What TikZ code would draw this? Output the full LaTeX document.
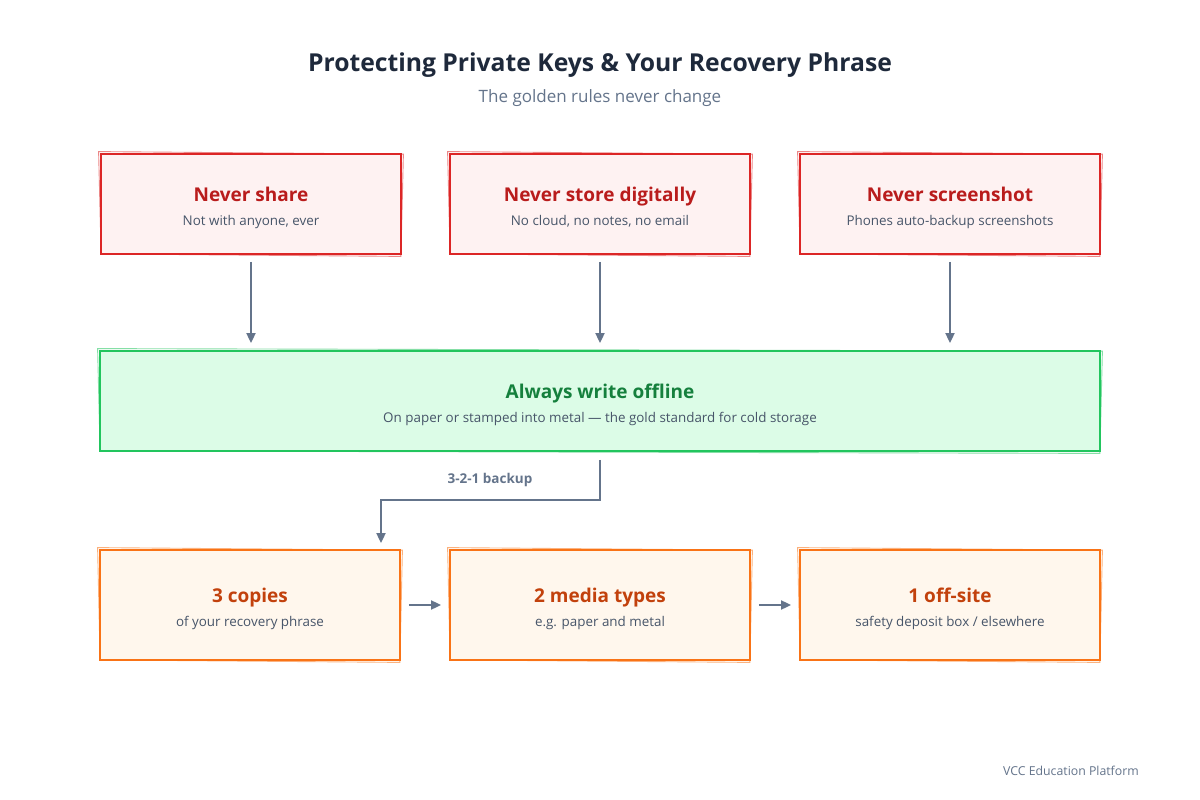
\documentclass[tikz,border=0pt]{standalone}
\usepackage{fontspec}
\setmainfont{Open Sans}
\usetikzlibrary{arrows.meta, positioning, calc}

\definecolor{redline}{HTML}{DC2626}
\definecolor{redfill}{HTML}{FEF2F2}
\definecolor{redtext}{HTML}{B91C1C}
\definecolor{greenline}{HTML}{22C55E}
\definecolor{greenfill}{HTML}{DCFCE7}
\definecolor{greentext}{HTML}{15803D}
\definecolor{orangeline}{HTML}{F97316}
\definecolor{orangefill}{HTML}{FFF7ED}
\definecolor{orangetext}{HTML}{C2410C}
\definecolor{subtext}{HTML}{475569}
\definecolor{slate}{HTML}{64748B}
\definecolor{headtext}{HTML}{1E293B}

\newcommand{\boxtitle}[2]{{\rule{0pt}{21.5pt}\fontsize{19}{22}\selectfont\bfseries\color{#1}#2}}
\newcommand{\boxsub}[1]{{\fontsize{13.4}{15}\selectfont\color{subtext}#1}}

\tikzset{
  rulebox/.style={draw, rectangle, line width=1.8pt, minimum width=300pt, minimum height=100pt,
    align=center, font=\fontsize{13}{24}\selectfont},
  flow/.style={-{Triangle[length=10pt, width=9pt]}, line width=1.8pt, draw=slate}
}

\begin{document}
\begin{tikzpicture}[x=1pt, y=-1pt]
\useasboundingbox[fill=white] (0,0) rectangle (1200,800);

% Heading
\node[font=\fontsize{24.7}{30}\selectfont\bfseries, text=headtext] (title) at (600,65) {Protecting Private Keys \& Your Recovery Phrase};
\node[font=\fontsize{17}{20}\selectfont, text=slate] (subtitle) at (600,98) {The golden rules never change};

% Three rules
\node[rulebox, draw=redline, fill=redfill] (share) at (251,204)
   {\boxtitle{redtext}{Never share}\\\boxsub{Not with anyone, ever}};
\node[rulebox, draw=redline, fill=redfill] (store) at (600,204)
   {\boxtitle{redtext}{Never store digitally}\\\boxsub{No cloud, no notes, no email}};
\node[rulebox, draw=redline, fill=redfill] (shot) at (950,204)
   {\boxtitle{redtext}{Never screenshot}\\\boxsub{Phones auto-backup screenshots}};

% Offline storage
\node[rulebox, draw=greenline, fill=greenfill, minimum width=1000pt] (offline) at (600,401)
   {\boxtitle{greentext}{Always write offline}\\\boxsub{On paper or stamped into metal --- the gold standard for cold storage}};

% 3-2-1 backup
\node[rulebox, draw=orangeline, fill=orangefill, minimum height=110pt] (copies) at (250,605)
   {\boxtitle{orangetext}{3 copies}\\\boxsub{of your recovery phrase}};
\node[rulebox, draw=orangeline, fill=orangefill, minimum height=110pt] (media) at (600,605)
   {\boxtitle{orangetext}{2 media types}\\\boxsub{e.g. paper and metal}};
\node[rulebox, draw=orangeline, fill=orangefill, minimum height=110pt] (offsite) at (950,605)
   {\boxtitle{orangetext}{1 off-site}\\\boxsub{safety deposit box / elsewhere}};

% sketchy second stroke
\foreach \n/\c in {share/redline, store/redline, shot/redline, offline/greenline, copies/orangeline, media/orangeline, offsite/orangeline}
  \draw[\c, line width=0.9pt, opacity=0.55]
    ($(\n.north west)+(-1.5,-1.5)$) -- ($(\n.north east)+(1.5,1)$) -- ($(\n.south east)+(-1,1.5)$) -- ($(\n.south west)+(1,-1)$) -- cycle;

\draw[flow, shorten <=7pt, shorten >=7pt] (share.south) -- (share.south |- offline.north);
\draw[flow, shorten <=7pt, shorten >=7pt] (store.south) -- (offline.north);
\draw[flow, shorten <=7pt, shorten >=7pt] (shot.south) -- (shot.south |- offline.north);

\coordinate (bend) at (381,500);
\draw[flow, shorten <=8pt, shorten >=6pt] (offline.south) |- (bend) -- (bend |- copies.north);
\node[font=\fontsize{13.5}{16}\selectfont\bfseries, text=slate] (backup) at (490,480) {3-2-1 backup};

\draw[flow, shorten <=8pt, shorten >=8pt] (copies) -- (media);
\draw[flow, shorten <=8pt, shorten >=8pt] (media) -- (offsite);

\node[font=\fontsize{12.3}{14}\selectfont, text=slate, anchor=east, inner sep=0pt] (footer) at (1139,771) {VCC Education Platform};
\end{tikzpicture}
\end{document}
